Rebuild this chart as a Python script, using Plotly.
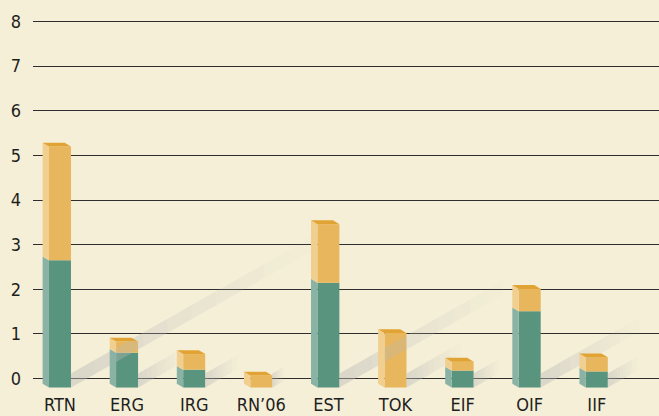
import plotly.graph_objects as go

# values
categories = ["RTN", "ERG", "IRG", "RN’06", "EST", "TOK", "EIF", "OIF", "IIF"]
green_vals = [2.65, 0.58, 0.20, 0.0, 2.15, 0.0, 0.18, 1.51, 0.16]
orange_vals = [2.55, 0.25, 0.35, 0.07, 1.31, 1.02, 0.20, 0.50, 0.32]
y_ticks = [0, 1, 2, 3, 4, 5, 6, 7, 8]

BG = "#F5EFD7"
GREEN = "#59947F"
GREEN_SIDE = "#8BB3A5"
ORANGE = "#E8B65C"
ORANGE_SIDE = "#F0CF8F"
TOP = "#E2A335"

FONT = "Liberation Sans Narrow, DejaVu Sans Condensed, Roboto, sans-serif"

# pseudo-3D geometry (data units)
base = -0.2        # bars sit a bit below the zero line
half_w = 0.164     # half width of the front face
dx = 0.095         # depth offset to the left
dy = 0.085         # depth offset upwards
px_x = 67.1        # pixels per x unit
px_y = 44.59       # pixels per y unit

fig = go.Figure()


def poly(xs, ys, color, opacity=1.0):
    fig.add_trace(go.Scatter(x=xs + [xs[0]], y=ys + [ys[0]], mode="lines",
                             fill="toself", fillcolor=color, opacity=opacity,
                             line=dict(width=0, color=color), hoverinfo="skip",
                             showlegend=False))


# shadows on the floor, fading towards the back
n_seg = 10
slope = 0.566 * px_x / px_y
band = 14 / px_y
for i, (g, o) in enumerate(zip(green_vals, orange_vals)):
    h = g + o - base
    length = h * px_y / px_x
    x0 = i + half_w
    for k in range(n_seg):
        t0, t1 = length * k / n_seg, length * (k + 1) / n_seg
        xa, xb = x0 + t0, x0 + t1
        ya, yb = base + t0 * slope, base + t1 * slope
        poly([xa, xb, xb, xa], [ya, yb, yb + band, ya + band],
             "rgb(188,188,184)", 0.45 * (1 - k / n_seg) ** 1.2)

# side and top faces
for i, (g, o) in enumerate(zip(green_vals, orange_vals)):
    left = i - half_w
    total = g + o
    if g > 0:
        poly([left, left, left - dx, left - dx], [base, g, g + dy, base + dy], GREEN_SIDE)
        o_base = g
    else:
        o_base = base
    poly([left, left, left - dx, left - dx], [o_base, total, total + dy, o_base + dy], ORANGE_SIDE)
    poly([left, i + half_w, i + half_w - dx, left - dx], [total, total, total + dy, total + dy], TOP)

# front faces
xs = list(range(len(categories)))
fig.add_trace(go.Bar(x=xs, y=[g - base if g > 0 else 0 for g in green_vals], base=base,
                     width=2 * half_w, marker=dict(color=GREEN, line=dict(width=0)),
                     hoverinfo="skip", showlegend=False))
fig.add_trace(go.Bar(x=xs, y=[o if g > 0 else o - base for g, o in zip(green_vals, orange_vals)],
                     base=[g if g > 0 else base for g in green_vals],
                     width=2 * half_w, marker=dict(color=ORANGE, line=dict(width=0)),
                     hoverinfo="skip", showlegend=False))

fig.update_layout(
    width=659, height=416,
    margin=dict(l=33, r=0, t=17, b=24),
    paper_bgcolor=BG, plot_bgcolor=BG,
    barmode="overlay", showlegend=False, hovermode=False,
    font=dict(family=FONT, size=18, color="#1E1E1E"),
)
fig.update_xaxes(range=[-0.402, 8.927], tickvals=xs, ticktext=categories,
                 showgrid=False, zeroline=False, showline=False, ticks="",
                 ticklabelstandoff=0, automargin=False, fixedrange=True)
fig.update_yaxes(range=[-0.3, 8.1], tickvals=y_ticks, showgrid=True,
                 gridcolor="#2E2E2E", gridwidth=1.4, zeroline=False,
                 showline=False, ticks="", ticklabelstandoff=11,
                 automargin=False, fixedrange=True)

# page has a default body margin; remove it so the figure fills the window
fig.write_html("out.html", config={"displayModeBar": False},
               post_script="document.body.style.margin='0';"
                           "document.body.style.background='" + BG + "';")
